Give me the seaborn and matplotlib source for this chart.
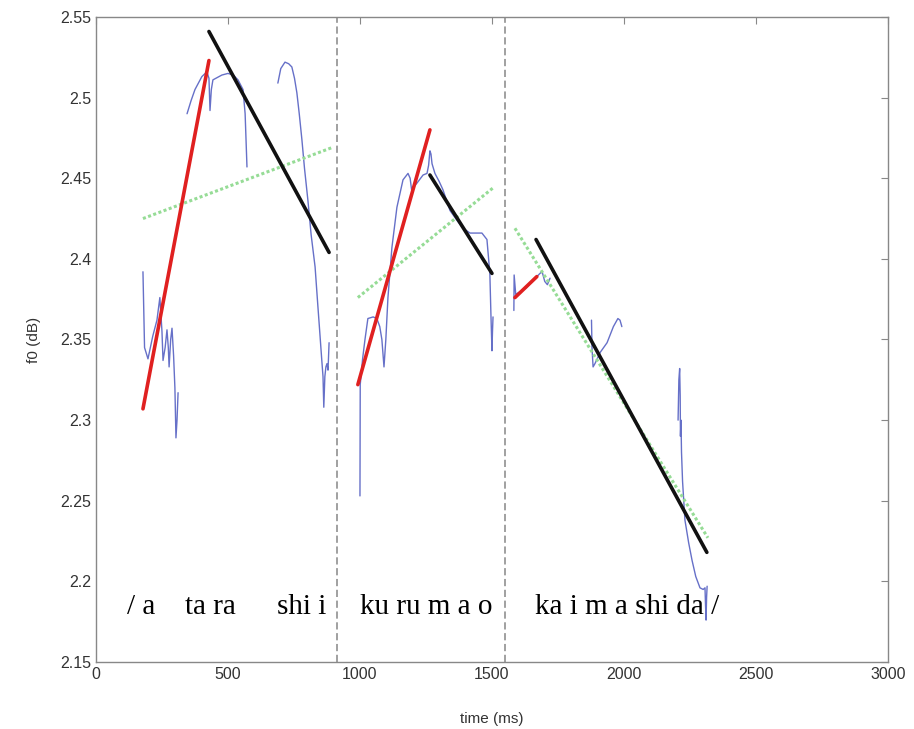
import matplotlib
matplotlib.use("Agg")
import matplotlib.pyplot as plt
import seaborn as sns
import pandas as pd

# ---- data ----
blue_t = [
    [178, 184, 197, 215, 231, 242, 250, 254, 262, 269, 274, 277, 283, 288, 294, 299, 303, 307, 311],
    [345, 360, 375, 401, 420, 428, 432, 437, 443, 477, 500, 520, 538, 557, 565, 572],
    [689, 700, 716, 730, 742, 752, 761, 770, 780, 790, 803, 815, 830, 840, 848, 855, 860, 863, 867, 871, 875, 879, 883],
    [1000, 1001, 1010, 1019, 1030, 1050, 1064, 1075, 1083, 1091, 1098, 1106, 1121, 1140, 1163, 1182, 1190, 1197, 1206,
     1216, 1239, 1254, 1260, 1265, 1269, 1273, 1284, 1300, 1314, 1341, 1367, 1390, 1417, 1440, 1462, 1481, 1492, 1496,
     1500, 1502, 1504],
    [1583, 1584, 1590, 1630, 1670, 1682, 1690, 1700, 1710, 1720],
    [1877, 1879, 1883, 1890, 1910, 1936, 1960, 1977, 1985, 1992],
    [2205, 2208, 2211, 2213, 2214, 2216, 2218, 2222, 2231, 2245, 2258, 2272, 2288, 2300, 2307, 2309, 2311, 2313, 2315],
]
blue_f0 = [
    [2.392, 2.345, 2.338, 2.352, 2.362, 2.376, 2.355, 2.337, 2.345, 2.356, 2.345, 2.333, 2.350, 2.357, 2.340, 2.320,
     2.289, 2.300, 2.317],
    [2.490, 2.498, 2.505, 2.513, 2.516, 2.512, 2.492, 2.505, 2.511, 2.514, 2.515, 2.514, 2.511, 2.505, 2.490, 2.457],
    [2.509, 2.518, 2.522, 2.521, 2.519, 2.512, 2.503, 2.490, 2.474, 2.456, 2.436, 2.415, 2.395, 2.372, 2.354, 2.338,
     2.327, 2.308, 2.327, 2.333, 2.335, 2.331, 2.348],
    [2.253, 2.322, 2.338, 2.350, 2.363, 2.364, 2.363, 2.358, 2.350, 2.333, 2.350, 2.376, 2.407, 2.432, 2.449, 2.453,
     2.450, 2.441, 2.445, 2.447, 2.452, 2.453, 2.458, 2.467, 2.465, 2.459, 2.453, 2.448, 2.443, 2.430, 2.424, 2.419,
     2.416, 2.416, 2.416, 2.412, 2.391, 2.366, 2.343, 2.355, 2.364],
    [2.368, 2.390, 2.378, 2.382, 2.389, 2.391, 2.392, 2.386, 2.384, 2.388],
    [2.362, 2.345, 2.333, 2.335, 2.342, 2.348, 2.358, 2.363, 2.362, 2.358],
    [2.300, 2.325, 2.332, 2.315, 2.290, 2.300, 2.280, 2.262, 2.238, 2.224, 2.213, 2.203, 2.196, 2.195, 2.196, 2.185,
     2.176, 2.190, 2.197],
]

red_t = [[178, 428], [992, 1265], [1587, 1670]]
red_f0 = [[2.307, 2.523], [2.322, 2.480], [2.376, 2.389]]
black_t = [[428, 883], [1265, 1500], [1667, 2314]]
black_f0 = [[2.541, 2.404], [2.452, 2.391], [2.412, 2.218]]
green_t = [[178, 894], [992, 1504], [1587, 2318]]
green_f0 = [[2.425, 2.469], [2.376, 2.444], [2.419, 2.227]]

boundaries = [913, 1549]

syllables = ["/ a", "ta ra", "shi i", "ku ru m a o", "ka i m a shi da /"]
syllable_x = [117, 337, 686, 1000, 1663]
syllable_y = 2.184

x_ticks = [0, 500, 1000, 1500, 2000, 2500, 3000]
y_ticks = [2.15, 2.2, 2.25, 2.3, 2.35, 2.4, 2.45, 2.5, 2.55]
y_labels = ["2.15", "2.2", "2.25", "2.3", "2.35", "2.4", "2.45", "2.5", "2.55"]

# ---- plot ----
sns.set_style("white")
plt.rcParams['font.family'] = ['Liberation Sans', 'DejaVu Sans']

fig = plt.figure(figsize=(9.14, 7.29), dpi=100)
ax = fig.add_axes([0.105, 0.0919, 0.8665, 0.8848])

for t, f in zip(blue_t, blue_f0):
    sns.lineplot(x=t, y=f, ax=ax, color="#6670c8", linewidth=1.0, sort=False, estimator=None)
for t, f in zip(green_t, green_f0):
    sns.lineplot(x=t, y=f, ax=ax, color="#96dc96", linewidth=2.2, linestyle=(0, (1, 0.8)),
                 sort=False, estimator=None)
for t, f in zip(red_t, red_f0):
    sns.lineplot(x=t, y=f, ax=ax, color="#e02020", linewidth=2.6, sort=False, estimator=None)
for t, f in zip(black_t, black_f0):
    sns.lineplot(x=t, y=f, ax=ax, color="#111111", linewidth=2.6, sort=False, estimator=None)

for b in boundaries:
    ax.axvline(b, color="#999999", linestyle=(0, (4, 2)), linewidth=1.3)

for s, x in zip(syllables, syllable_x):
    ax.text(x, syllable_y, s, fontsize=21, family=['Liberation Serif', 'DejaVu Serif'],
            va='center', ha='left', color='black')

ax.set_xlim(0, 3000)
ax.set_ylim(2.15, 2.55)
ax.set_xticks(x_ticks)
ax.set_xticklabels([str(v) for v in x_ticks])
ax.set_yticks(y_ticks)
ax.set_yticklabels(y_labels)
ax.tick_params(direction='in', top=True, right=True, length=5, width=0.8,
               colors='#888888', labelcolor='#333333', labelsize=11.5)
for sp in ax.spines.values():
    sp.set_color('#888888')
    sp.set_linewidth(1.0)
ax.set_xlabel("time (ms)", fontsize=11, color='#333333', labelpad=22)
ax.set_ylabel("f0 (dB)", fontsize=11, color='#333333', labelpad=14)

fig.savefig("out.png", dpi=100)
